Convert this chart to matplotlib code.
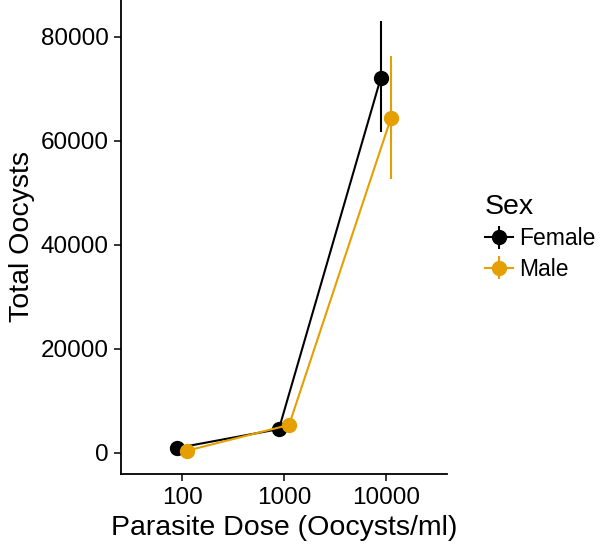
import matplotlib
matplotlib.use("Agg")
import matplotlib.pyplot as plt
import numpy as np

plt.rcParams['font.family'] = ['Liberation Sans', 'DejaVu Sans']

doses = ["100", "1000", "10000"]
sexes = ["Female", "Male"]
colors = {"Female": "#000000", "Male": "#E69F00"}
means = {"Female": [960, 4600, 72100], "Male": [450, 5400, 64400]}
lower = {"Female": [600, 4000, 61700], "Male": [200, 4700, 52700]}
upper = {"Female": [1300, 5200, 83000], "Male": [700, 6100, 76300]}
offsets = {"Female": -0.05, "Male": 0.05}

dpi = 100
fig = plt.figure(figsize=(601 / dpi, 549 / dpi), dpi=dpi)
ax = fig.add_axes([121 / 601, 75 / 549, 326 / 601, 474 / 549])

x = np.arange(1, len(doses) + 1)
for s in sexes:
    xs = x + offsets[s]
    m = np.array(means[s])
    err = [m - np.array(lower[s]), np.array(upper[s]) - m]
    ax.errorbar(xs, m, yerr=err, color=colors[s], marker='o', markersize=10,
                linewidth=1.5, elinewidth=1.5, capsize=0, label=s)

ax.set_xlim(0.4, 3.6)
ax.set_ylim(-4040, 87100)
ax.set_xticks(x)
ax.set_xticklabels(doses)
ax.set_yticks([0, 20000, 40000, 60000, 80000])
ax.tick_params(labelsize=17.5, length=5, width=1.1, color='black', labelcolor='black', pad=4)
for sp in ['top', 'right']:
    ax.spines[sp].set_visible(False)
for sp in ['left', 'bottom']:
    ax.spines[sp].set_linewidth(1.3)

ax.set_xlabel("Parasite Dose (Oocysts/ml)", fontsize=20.5, labelpad=5)
ax.set_ylabel("Total Oocysts", fontsize=20.5, labelpad=4)

leg = fig.legend(title="Sex", loc='upper left', bbox_to_anchor=(485 / 601, 1 - 194 / 549),
                 frameon=False, fontsize=16.5, title_fontsize=20.5, handlelength=1.2,
                 handletextpad=0.3, borderaxespad=0, labelspacing=0.32, borderpad=0)
leg._legend_box.align = "left"

fig.savefig("out.png", dpi=dpi)
